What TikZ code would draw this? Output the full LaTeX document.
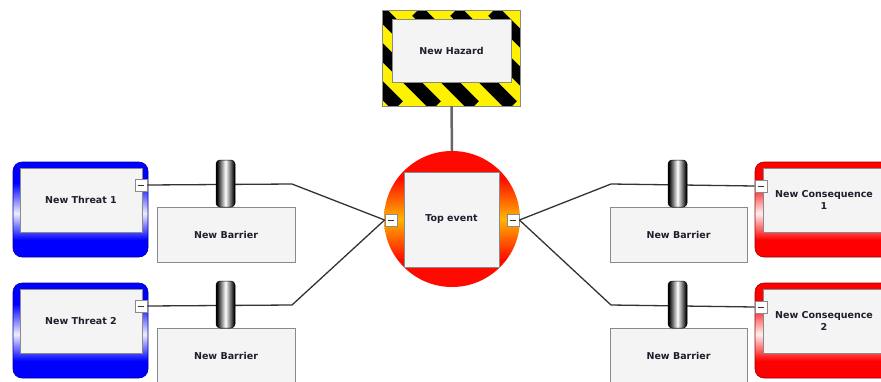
\documentclass[tikz,border=0pt]{standalone}
\usepackage{fontspec}
\setsansfont{DejaVu Sans}
\usetikzlibrary{positioning}

% Colours of the diagram
\definecolor{boxfill}{HTML}{F4F4F4}
\definecolor{boxline}{HTML}{8A8A8A}
\definecolor{wire}{HTML}{333333}
\definecolor{labeltext}{HTML}{1E1E2E}
\definecolor{hazyellow}{HTML}{FFF200}
\definecolor{threatblue}{HTML}{0000FF}
\definecolor{threatpale}{HTML}{EEEEFF}
\definecolor{conred}{HTML}{FF0000}
\definecolor{conpale}{HTML}{FFEEEE}
\definecolor{corered}{HTML}{FF0A00}
\definecolor{coreorange}{HTML}{FFB400}

% Fades used by the boxes
\pgfdeclareverticalshading{threatfade}{100bp}{color(0bp)=(threatblue); color(34bp)=(threatblue); color(48bp)=(threatpale); color(64bp)=(threatblue); color(100bp)=(threatblue)}
\pgfdeclareverticalshading{confade}{100bp}{color(0bp)=(conred); color(34bp)=(conred); color(48bp)=(conpale); color(64bp)=(conred); color(100bp)=(conred)}
\pgfdeclareverticalshading{corefade}{100bp}{color(0bp)=(corered); color(35bp)=(corered); color(50bp)=(coreorange); color(65bp)=(corered); color(100bp)=(corered)}
\pgfdeclarehorizontalshading{barrelfade}{100bp}{color(0bp)=(black); color(27bp)=(black); color(50bp)=(white); color(73bp)=(black); color(100bp)=(black)}

\tikzset{
  labelbox/.style={draw=boxline, fill=boxfill, line width=0.9pt, inner sep=0pt,
    font=\sffamily\bfseries\fontsize{9.5}{11.5}\selectfont, text=labeltext, align=center},
  threatframe/.style={draw=threatblue!60!black, line width=0.6pt, rounded corners=9pt,
    shading=threatfade, minimum width=135pt, minimum height=95pt, inner sep=0pt},
  conframe/.style={draw=conred!60!black, line width=0.6pt, rounded corners=9pt,
    shading=confade, minimum width=135pt, minimum height=95pt, inner sep=0pt},
  minusbox/.style={draw=boxline, fill=white, line width=0.8pt, minimum size=12pt, inner sep=0pt,
    path picture={\draw[wire, line width=0.8pt]
      ([xshift=3pt]path picture bounding box.west) -- ([xshift=-3pt]path picture bounding box.east);}},
  barrel/.style={draw=black, line width=0.5pt, rounded corners=4pt, shading=barrelfade,
    minimum width=19pt, minimum height=47pt, inner sep=0pt},
  link/.style={draw=wire, line width=1.3pt}
}

\begin{document}
\begin{tikzpicture}[x=1pt, y=-1pt]

    % Picture frame, in pixels of the reference
    \useasboundingbox (0,0) rectangle (881,381);
    \clip (0,0) rectangle (881,381);

    % Hazard sign with its stripes
    \node[minimum width=137pt, minimum height=95pt, inner sep=0pt] (hazard) at (451.5,58.5) {};
    \begin{scope}
        \clip (hazard.north west) rectangle (hazard.south east);
        \fill[hazyellow] (hazard.north west) rectangle (hazard.south east);
        \foreach \s in {265,303,...,531}
            \draw[line width=13.5pt] (\s,11) -- (\s+95,106);
    \end{scope}
    \draw[boxline, line width=0.8pt] (hazard.north west) rectangle (hazard.south east);
    \node[labelbox, minimum width=119pt, minimum height=63pt] (hazlabel) at (451.5,50.5) {New Hazard};

    % Top event circle
    \node[circle, shading=corefade, minimum size=136pt, inner sep=0pt] (core) at (452,219) {};
    \draw[line width=2.5pt, black!60] (hazard.south) -- (core.north);
    \node[labelbox, minimum width=95pt, minimum height=95pt] (top) at (451.5,219.5) {Top event};
    \node[minusbox] (topL) at (391,220) {};
    \node[minusbox] (topR) at (513,220) {};

    % Threats on the left
    \foreach \n/\y in {1/0,2/121} {
        \node[threatframe] (threat\n) at (80.5,209.5+\y) {};
        \node[labelbox, minimum width=122pt, minimum height=64pt] (threatlabel\n) at (81,200+\y) {New Threat \n};
        \node[minusbox] (threatminus\n) at (141,185+\y) {};
        \node[labelbox, minimum width=138pt, minimum height=55pt] (barrierL\n) at (226,234.5+\y) {New Barrier};
        \coordinate (bendL\n) at (292,184+\y);
        \draw[link] (threatminus\n.east) -- (bendL\n) -- (topL.west);
        \node[barrel] (barrelL\n) at (225.5,183.5+\y) {};
    }

    % Consequences on the right
    \foreach \n/\y in {1/0,2/121} {
        \node[conframe] (cons\n) at (822.5,209.5+\y) {};
        \node[labelbox, minimum width=122pt, minimum height=64pt] (conslabel\n) at (824,200+\y) {New Consequence\\\n};
        \node[minusbox] (consminus\n) at (761,186+\y) {};
        \node[labelbox, minimum width=137pt, minimum height=55pt] (barrierR\n) at (678.5,234.5+\y) {New Barrier};
        \coordinate (bendR\n) at (611,184+\y);
        \draw[link] (topR.east) -- (bendR\n) -- (consminus\n.west);
        \node[barrel] (barrelR\n) at (677.5,183.5+\y) {};
    }

\end{tikzpicture}
\end{document}
